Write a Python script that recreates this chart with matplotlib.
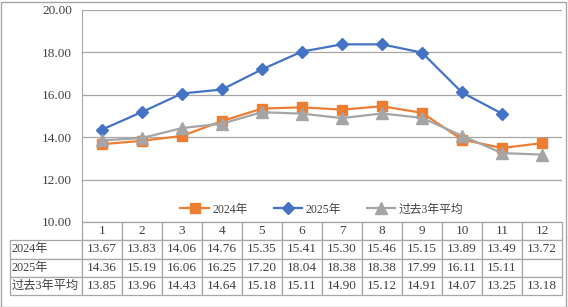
import matplotlib
matplotlib.use("Agg")
import numpy as np
from matplotlib import pyplot as plt
from matplotlib.table import Table

months = ["1", "2", "3", "4", "5", "6", "7", "8", "9", "10", "11", "12"]
series_names = ["2024年", "2025年", "过去3年平均"]
vals_2024 = [13.67, 13.83, 14.06, 14.76, 15.35, 15.41, 15.30, 15.46, 15.15, 13.89, 13.49, 13.72]
vals_2025 = [14.36, 15.19, 16.06, 16.25, 17.20, 18.04, 18.38, 18.38, 17.99, 16.11, 15.11, None]
vals_avg3 = [13.85, 13.96, 14.43, 14.64, 15.18, 15.11, 14.90, 15.12, 14.91, 14.07, 13.25, 13.18]
y_ticks = [10, 12, 14, 16, 18, 20]

plt.rcParams['font.family'] = ['Liberation Serif', 'Noto Sans CJK SC']
TXT = '#404040'
GRID = '#A6A6A6'

W, H = 568, 307
fig = plt.figure(figsize=(W / 100, H / 100), dpi=100)
# plot area in pixels: x 82..562, y 10..222
ax = fig.add_axes([82 / W, 1 - 222 / H, 480 / W, 212 / H])

x = np.arange(len(months)) + 0.5
styles = [
    dict(color='#ED7D31', marker='s', markersize=7),
    dict(color='#4472C4', marker='D', markersize=6),
    dict(color='#A5A5A5', marker='^', markersize=8),
]
for name, vals, st in zip(series_names, [vals_2024, vals_2025, vals_avg3], styles):
    y = np.array([np.nan if v is None else v for v in vals], dtype=float)
    ax.plot(x, y, linewidth=1.6, label=name, **st)

ax.set_xlim(0, 12)
ax.set_ylim(10, 20)
ax.set_yticks(y_ticks)
ax.set_yticklabels([f"{t:.2f}" for t in y_ticks], color=TXT, fontsize=9.5)
ax.set_xticks([])
ax.tick_params(axis='y', length=0, pad=7)
ax.grid(axis='y', color=GRID, linewidth=0.9)
ax.set_axisbelow(True)
for s in ['top', 'right', 'bottom']:
    ax.spines[s].set_visible(False)
ax.spines['left'].set_color(GRID)

leg = ax.legend(loc='lower center', bbox_to_anchor=(0.5, -0.02), ncol=3, frameon=False,
                fontsize=8.5, handlelength=2.4, columnspacing=2.2, handletextpad=0.3)
for t in leg.get_texts():
    t.set_color(TXT)

# data table below the plot: column 0 holds the row labels
rows = [[""] + months]
for name, vals in zip(series_names, [vals_2024, vals_2025, vals_avg3]):
    rows.append([name] + ["" if v is None else f"{v:.2f}" for v in vals])

tbl = Table(ax, bbox=[-72 / 480, -73 / 212, 552 / 480, 73 / 212])
for r, row in enumerate(rows):
    for c, txt in enumerate(row):
        w = 72 if c == 0 else 40
        cell = tbl.add_cell(r, c, width=w, height=1, text=txt,
                            loc='left' if c == 0 else 'center')
        cell.set_edgecolor(GRID)
        cell.set_linewidth(0.9)
        cell.get_text().set_color(TXT)
        if c == 0:
            cell.PAD = 0.02
        if r == 0 and c == 0:
            cell.visible_edges = ''
tbl.auto_set_font_size(False)
tbl.set_fontsize(9.5)
for r in range(1, len(rows)):
    tbl[r, 0].get_text().set_fontsize(8.8)
ax.add_table(tbl)

# outer chart border
fig.patches.append(plt.Rectangle((0.5 / W, 0.5 / H), (W - 3) / W, (H - 2) / H,
                                 transform=fig.transFigure, fill=False,
                                 edgecolor='#A6A6A6', linewidth=1))

fig.savefig("out.png", dpi=100)
